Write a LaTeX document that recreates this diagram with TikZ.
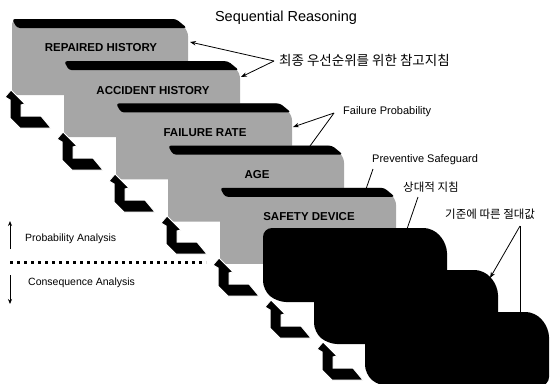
\documentclass[tikz,border=0pt]{standalone}
\usepackage{fontspec}
\setmainfont{Liberation Sans}
\newfontfamily\krfont{Noto Sans CJK KR}
\usetikzlibrary{arrows.meta}

\tikzset{
  graycard/.style={fill=black!35, rounded corners=5pt},
  cardbar/.style={fill=black, rounded corners=3pt},
  blackcard/.style={fill=black, rounded corners=9pt},
  cardtext/.style={font=\bfseries\fontsize{11.5}{12}\selectfont, inner sep=0pt},
  note/.style={font=\fontsize{11}{12}\selectfont, inner sep=0pt},
  leftnote/.style={font=\fontsize{10.5}{12}\selectfont, inner sep=0pt},
  krnote/.style={font=\krfont\fontsize{11.5}{12}\selectfont, inner sep=0pt},
  pointer/.style={-{Stealth[length=6pt,width=4.5pt]}, line width=0.8pt},
  leader/.style={line width=0.8pt},
  bentarrow/.style={fill=black, draw=white, line width=1pt},
}

\begin{document}
\begin{tikzpicture}[x=1pt,y=-1pt]
  \useasboundingbox (0,0) rectangle (553,383);

  % title
  \node[font=\fontsize{14.5}{16}\selectfont, inner sep=0pt] (title) at (286,18) {Sequential Reasoning};

  % gray cards
  \foreach \i/\txt in {0/REPAIRED HISTORY,1/ACCIDENT HISTORY,2/FAILURE RATE,3/AGE,4/SAFETY DEVICE}{
    \begin{scope}[shift={(12+52*\i,19+42.2*\i)}]
      \fill[graycard] (0,76) -- (0,0) -- (164,0) -- (176,12) -- (176,76) -- cycle;
      \fill[cardbar] (0,0) -- (164,0) -- (175,9) -- (5,9) -- cycle;
      \node[cardtext] (card\i) at (89,29) {\txt};
    \end{scope}
  }

  % black cards
  \foreach \i in {0,1,2}{
    \begin{scope}[shift={(263+51*\i,228+42*\i)}]
      \fill[blackcard] (0,0) -- (170,0) -- (184,16) -- (184,74) -- (14,74) -- (0,62) -- cycle;
    \end{scope}
  }

  % bent arrows
  \foreach \i in {0,...,6}{
    \begin{scope}[shift={(11+52*\i,90+42*\i)}]
      \filldraw[bentarrow] (0,0) -- (14,14) -- (10,15) -- (10,26) -- (30,26) -- (40,38)
        -- (9,38) -- (-1,28) -- (-1,10) -- (-6,7) -- cycle;
    \end{scope}
  }

  % divider
  \draw[line width=3pt, dash pattern=on 3pt off 4pt] (10,262) -- (206,262);
  \coordinate (upfoot) at (10,249);
  \coordinate (uptip) at (10,221);
  \coordinate (downfoot) at (10,275);
  \coordinate (downtip) at (10,304);
  \draw[-{Stealth[length=5pt,width=4pt]}, line width=0.8pt] (upfoot) -- (uptip);
  \draw[-{Stealth[length=5pt,width=4pt]}, line width=0.8pt] (downfoot) -- (downtip);
  \node[leftnote, anchor=west] (prob) at (25,239) {Probability Analysis};
  \node[leftnote, anchor=west] (cons) at (28,283) {Consequence Analysis};

  % notes
  \node[krnote, anchor=west, font=\krfont\fontsize{13.5}{14}\selectfont] (final) at (279,60) {최종 우선순위를 위한 참고지침};
  \node[note, anchor=west] (failp) at (343,112) {Failure Probability};
  \node[note, anchor=west] (prev) at (372,160) {Preventive Safeguard};
  \node[krnote, anchor=west] (rel) at (403,187) {상대적 지침};
  \node[krnote, anchor=west] (abs) at (445,214) {기준에 따른 절대값};

  \coordinate (finaljoin) at (274,61);
  \coordinate (repair) at (190,42);
  \coordinate (accid) at (241,77);
  \coordinate (failjoin) at (334,113);
  \coordinate (rate) at (293,127);
  \coordinate (agetop) at (310,146);
  \coordinate (prevend) at (373,169);
  \coordinate (safetop) at (366,189);
  \coordinate (relend) at (418,197);
  \coordinate (blacktop) at (407,229);
  \coordinate (absjoin) at (520,226);
  \coordinate (midcorner) at (490,278);
  \coordinate (lowtop) at (520,313);

  \draw[pointer] (finaljoin) -- (repair);
  \draw[pointer] (finaljoin) -- (accid);
  \draw[pointer] (failjoin) -- (rate);
  \draw[leader] (failjoin) -- (agetop);
  \draw[leader] (prevend) -- (safetop);
  \draw[leader] (relend) -- (blacktop);
  \draw[pointer] (absjoin) -- (midcorner);
  \draw[leader] (absjoin) -- (lowtop);
\end{tikzpicture}
\end{document}
